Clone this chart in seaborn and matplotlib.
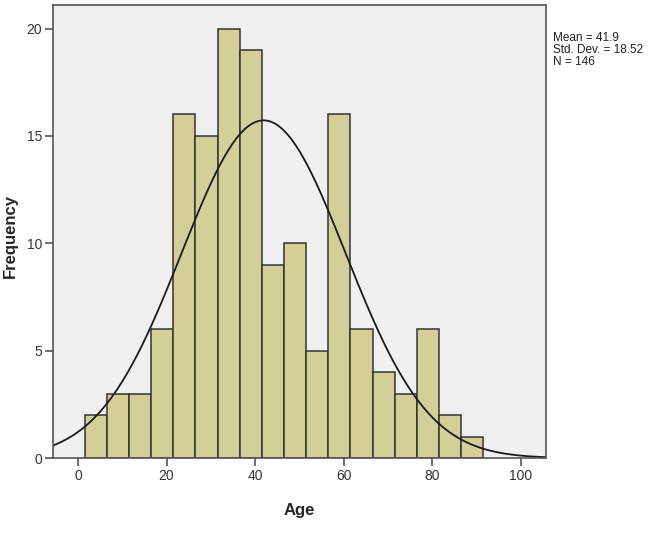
import numpy as np
import pandas as pd
import matplotlib
matplotlib.use('Agg')
import matplotlib.pyplot as plt
import seaborn as sb

# histogram counts (bins of 5 years starting at 1.5)
bin_starts = [1.5, 6.5, 11.5, 16.5, 21.5, 26.5, 31.5, 36.5, 41.5,
              46.5, 51.5, 56.5, 61.5, 66.5, 71.5, 76.5, 81.5, 86.5]
counts = [2, 3, 3, 6, 16, 15, 20, 19, 9, 10, 5, 16, 6, 4, 3, 6, 2, 1]
bin_width = 5

mean_age = 41.9
std_age = 18.52
n_total = 146

x_ticks = [0, 20, 40, 60, 80, 100]
y_ticks = [0, 5, 10, 15, 20]

df = pd.DataFrame({'age': [s + bin_width / 2 for s in bin_starts], 'count': counts})
edges = bin_starts + [bin_starts[-1] + bin_width]

sb.set_style('white')
plt.rcParams['font.family'] = ['Liberation Sans', 'DejaVu Sans']

fig = plt.figure(figsize=(6.56, 5.46), dpi=100)
ax = fig.add_axes([0.081, 0.161, 0.751, 0.830])
ax.set_facecolor('#F0F0F0')

sb.histplot(data=df, x='age', weights='count', bins=edges, ax=ax,
            color='#D4CF98', alpha=1, edgecolor='#333333', linewidth=1.1)

# fitted normal curve, scaled to counts
xs = np.linspace(-6, 106, 400)
ys = n_total * bin_width / (std_age * np.sqrt(2 * np.pi)) * np.exp(-0.5 * ((xs - mean_age) / std_age) ** 2)
ax.plot(xs, ys, color='#1a1a1a', linewidth=1.3)

ax.set_xlim(-5.6, 105.6)
ax.set_ylim(0, 21.1)
ax.set_xticks(x_ticks)
ax.set_yticks(y_ticks)
ax.tick_params(axis='both', bottom=True, left=True, direction='out', length=6,
               width=1.2, color='#555555', labelsize=10, labelcolor='#333333', pad=2)
for side in ['left', 'right', 'top', 'bottom']:
    ax.spines[side].set_color('#555555')
    ax.spines[side].set_linewidth(1.2)

ax.set_xlabel('Age', fontsize=12, fontweight='bold', labelpad=14)
ax.set_ylabel('Frequency', fontsize=12, fontweight='bold')
ax.yaxis.set_label_coords(-0.072, 0.49)

fig.text(0.843, 0.942, f'Mean = {mean_age}\nStd. Dev. = {std_age}\nN = {n_total}',
         fontsize=8.5, va='top', ha='left', linespacing=1.0, color='#222222')

plt.savefig('out.png', dpi=100)
